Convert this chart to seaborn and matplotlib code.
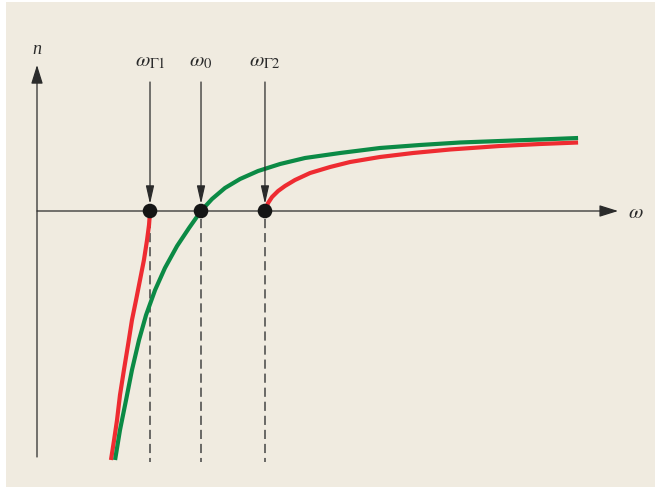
import matplotlib
matplotlib.use("Agg")
import matplotlib.pyplot as plt
from matplotlib.patches import Rectangle
import seaborn as sns
import pandas as pd

# Refractive index n(ω): transparent medium (green) and medium with
# absorption band between ω_Γ1 and ω_Γ2 (red). ω in units of ω0.
green_w = [0.476, 0.506, 0.543, 0.579, 0.622, 0.665, 0.720, 0.780, 0.854,
           0.927, 1.000, 1.067, 1.146, 1.238, 1.348, 1.482, 1.634, 1.848,
           2.091, 2.335, 2.579, 2.823, 3.067, 3.299]
green_n = [-2.49, -2.19, -1.89, -1.59, -1.29, -1.04, -0.79, -0.57, -0.35,
           -0.17, 0.00, 0.12, 0.23, 0.32, 0.40, 0.47, 0.53, 0.58,
           0.63, 0.66, 0.685, 0.70, 0.715, 0.73]

red_low_w = [0.451, 0.470, 0.488, 0.506, 0.530, 0.555, 0.579, 0.604, 0.628,
             0.652, 0.671, 0.683, 0.689]
red_low_n = [-2.49, -2.29, -2.09, -1.84, -1.59, -1.34, -1.09, -0.89, -0.69,
             -0.49, -0.29, -0.14, -0.01]

red_high_w = [1.390, 1.409, 1.433, 1.470, 1.512, 1.573, 1.665, 1.787, 1.909,
              2.091, 2.293, 2.518, 2.823, 3.067, 3.299]
red_high_n = [0.00, 0.08, 0.14, 0.20, 0.25, 0.31, 0.38, 0.44, 0.49,
              0.54, 0.58, 0.615, 0.65, 0.67, 0.685]

# Characteristic frequencies and their labels
mark_w = [0.689, 1.000, 1.390]
mark_labels = [r"$\omega_{\Gamma 1}$", r"$\omega_{0}$", r"$\omega_{\Gamma 2}$"]

GREEN = "#0b8a45"
RED = "#ee2b31"
AXIS = "#2b2b2b"
BEIGE = "#f0ebe0"

plt.rcParams["mathtext.fontset"] = "stix"
sns.set_style("white")

fig = plt.figure(figsize=(6.55, 4.87), dpi=100, facecolor="white")
fig.add_artist(Rectangle((6 / 655, 0), 1, 485 / 487, transform=fig.transFigure,
                         facecolor=BEIGE, edgecolor="none", zorder=-10))
ax = fig.add_axes([0, 0, 1, 1])
ax.set_facecolor("none")
ax.patch.set_alpha(0)
ax.set_xlim(-0.2256, 3.768)
ax.set_ylim(-2.76, 2.11)
ax.axis("off")

# Coordinate axes with arrowheads
axis_arrow = dict(arrowstyle="-|>,head_length=1.15,head_width=0.36",
                  color=AXIS, lw=0.9, mutation_scale=10, shrinkA=0, shrinkB=0)
ax.annotate("", xy=(0, 1.46), xytext=(0, -2.46), arrowprops=axis_arrow)
ax.annotate("", xy=(3.543, 0), xytext=(0, 0), arrowprops=axis_arrow)
ax.text(0, 1.61, "n", fontsize=13, family="Liberation Serif", style="italic",
        ha="center", va="center", color=AXIS)
ax.text(3.652, -0.01, r"$\omega$", fontsize=15, ha="center", va="center", color=AXIS)

# Dispersion curves
df_g = pd.DataFrame({"w": green_w, "n": green_n})
df_r1 = pd.DataFrame({"w": red_low_w, "n": red_low_n})
df_r2 = pd.DataFrame({"w": red_high_w, "n": red_high_n})
for df, col in [(df_r1, RED), (df_r2, RED), (df_g, GREEN)]:
    sns.lineplot(data=df, x="w", y="n", sort=False, estimator=None, ax=ax,
                 color=col, lw=3.0, solid_capstyle="butt",
                 solid_joinstyle="round", zorder=3)

# Markers, pointer arrows, labels and dashed guides
mark_arrow = dict(arrowstyle="-|>,head_length=1.1,head_width=0.25",
                  color=AXIS, lw=0.9, mutation_scale=10, shrinkA=0, shrinkB=0)
for w, lab in zip(mark_w, mark_labels):
    ax.annotate("", xy=(w, 0.07), xytext=(w, 1.29), arrowprops=mark_arrow)
    ax.text(w, 1.50, lab, fontsize=15, ha="center", va="center", color=AXIS)
    ax.plot([w, w], [-0.08, -2.51], color="#444444", lw=1.1,
            dashes=(6.0, 3.2), zorder=2)

sns.scatterplot(x=mark_w, y=[0, 0, 0], ax=ax, color="#151515", s=110,
                edgecolor="none", zorder=5)

fig.savefig("out.png", dpi=100, facecolor=fig.get_facecolor())
